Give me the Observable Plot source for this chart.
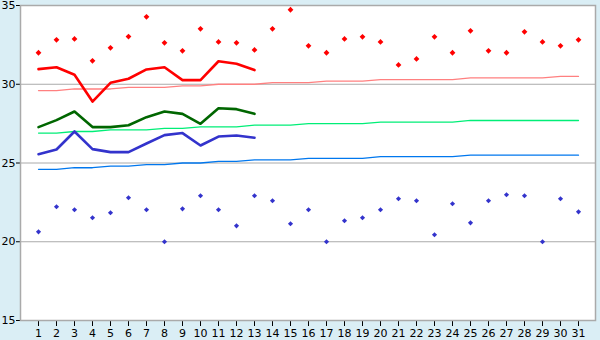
<!DOCTYPE html>
<html><head><meta charset="utf-8">
<script src="https://cdn.jsdelivr.net/npm/d3@7"></script>
<script src="https://cdn.jsdelivr.net/npm/@observablehq/plot@0.6"></script>
<style>
html,body{margin:0;padding:0;background:#daeef5;}
</style></head><body><div id="chart"></div>
<script>
const days = [1,2,3,4,5,6,7,8,9,10,11,12,13,14,15,16,17,18,19,20,21,22,23,24,25,26,27,28,29,30,31];
const yTicks = [15,20,25,30,35];

const dailyMax = [32.0,32.82,32.88,31.49,32.31,33.03,34.28,32.63,32.12,33.52,32.69,32.63,32.18,33.52,34.73,32.44,32.0,32.88,33.01,32.69,31.23,31.61,33.01,32.0,33.39,32.12,32.0,33.33,32.69,32.44,32.82];
const dailyMin = [20.63,22.22,22.03,21.52,21.84,22.79,22.03,20.0,22.09,22.92,22.03,21.01,22.92,22.6,21.14,22.03,20.0,21.33,21.52,22.03,22.73,22.6,20.44,22.41,21.2,22.6,22.98,22.92,20.0,22.73,21.9];

const avgMax  = [30.96,31.08,30.6,28.9,30.09,30.35,30.94,31.08,30.26,30.26,31.46,31.3,30.9];
const avgMean = [27.28,27.72,28.27,27.28,27.28,27.4,27.91,28.27,28.12,27.49,28.48,28.42,28.12];
const avgMin  = [25.56,25.86,27.0,25.88,25.69,25.69,26.24,26.77,26.9,26.11,26.68,26.75,26.6];

const normMax  = [29.6,29.6,29.7,29.7,29.7,29.8,29.8,29.8,29.9,29.9,30.0,30.0,30.0,30.1,30.1,30.1,30.2,30.2,30.2,30.3,30.3,30.3,30.3,30.3,30.4,30.4,30.4,30.4,30.4,30.5,30.5];
const normMean = [26.9,26.9,27.0,27.0,27.1,27.1,27.1,27.2,27.2,27.3,27.3,27.3,27.4,27.4,27.4,27.5,27.5,27.5,27.5,27.6,27.6,27.6,27.6,27.6,27.7,27.7,27.7,27.7,27.7,27.7,27.7];
const normMin  = [24.6,24.6,24.7,24.7,24.8,24.8,24.9,24.9,25.0,25.0,25.1,25.1,25.2,25.2,25.2,25.3,25.3,25.3,25.3,25.4,25.4,25.4,25.4,25.4,25.5,25.5,25.5,25.5,25.5,25.5,25.5];

const xOf = (d, i) => days[i];
const yOf = d => d;

const chart = Plot.plot({
  width: 600, height: 340,
  marginLeft: 20, marginRight: 5, marginTop: 5, marginBottom: 20,
  style: {background: "#daeef5", fontFamily: "'DejaVu Sans', sans-serif", fontSize: "11px", color: "black"},
  x: {type: "point", domain: days, padding: 0.5, align: 0.5, label: null, tickSize: 6, tickPadding: 3},
  y: {domain: [15, 35], ticks: yTicks, label: null, tickSize: 4, tickPadding: 1},
  marks: [
    Plot.frame({fill: "white", stroke: "none"}),
    Plot.ruleY([20, 25, 30], {stroke: "#aaaaaa"}),
    Plot.line(normMax,  {x: xOf, y: yOf, stroke: "#ff8080", strokeWidth: 1.3}),
    Plot.line(normMean, {x: xOf, y: yOf, stroke: "#00ee77", strokeWidth: 1.3}),
    Plot.line(normMin,  {x: xOf, y: yOf, stroke: "#0077ee", strokeWidth: 1.3}),
    Plot.line(avgMax,  {x: xOf, y: yOf, stroke: "#ff0000", strokeWidth: 2.6}),
    Plot.line(avgMean, {x: xOf, y: yOf, stroke: "#006600", strokeWidth: 2.6}),
    Plot.line(avgMin,  {x: xOf, y: yOf, stroke: "#3333cc", strokeWidth: 2.6}),
    Plot.dot(dailyMax, {x: xOf, y: yOf, symbol: "diamond2", r: 2.6, fill: "#ff0000", stroke: "none"}),
    Plot.dot(dailyMin, {x: xOf, y: yOf, symbol: "diamond2", r: 2.3, fill: "#3333cc", stroke: "none"}),
    Plot.frame({stroke: "#aaaaaa", strokeWidth: 1.5})
  ]
});
document.getElementById("chart").appendChild(chart);
</script>
</body></html>
